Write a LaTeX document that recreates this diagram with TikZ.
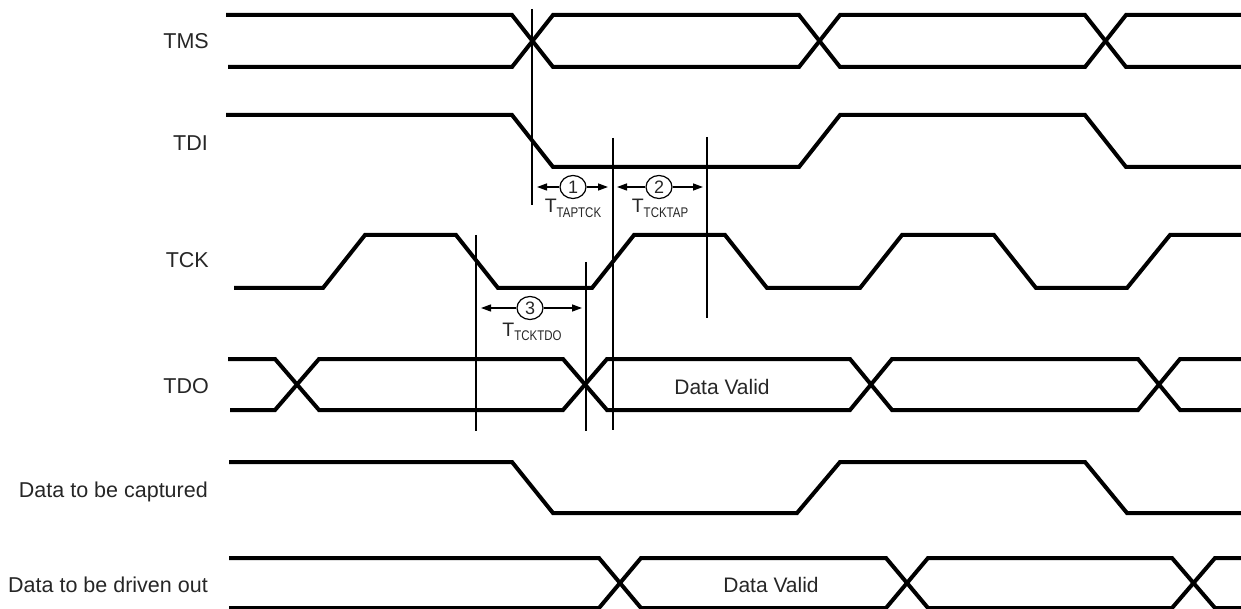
\documentclass[tikz,border=0pt]{standalone}
\usepackage{fontspec}
\setmainfont{Liberation Sans}
\newfontfamily\subfont[FakeStretch=0.82]{Liberation Sans}
\usetikzlibrary{arrows.meta}
\definecolor{txt}{gray}{0.15}
\newcommand{\tsub}[1]{\fontsize{19.5}{22}\selectfont T\raisebox{-5pt}{\subfont\fontsize{14}{16}\selectfont #1}}
\tikzset{
  sig/.style={line width=4pt, line join=miter},
  vline/.style={line width=1.2pt},
  arr/.style={line width=1.3pt, -{Triangle[length=10pt,width=7pt]}},
  lbl/.style={anchor=base east, inner sep=0pt, text=txt, font=\fontsize{21.5}{24}\selectfont},
  dv/.style={anchor=base, inner sep=0pt, text=txt, font=\fontsize{21}{24}\selectfont},
  num/.style={draw, line width=1.2pt, ellipse, minimum width=26pt, minimum height=23pt, inner sep=0pt, text=txt, font=\fontsize{18}{20}\selectfont},
  tl/.style={anchor=base, inner sep=0pt, text=txt}
}
\usetikzlibrary{shapes.geometric}
\begin{document}
\begin{tikzpicture}[x=1pt,y=-1pt]
\useasboundingbox (0,0) rectangle (1241,609);
% labels
\node[lbl] (lTMS) at (209,49) {TMS};
\node[lbl] (lTDI) at (208,151) {TDI};
\node[lbl] (lTCK) at (209,268) {TCK};
\node[lbl] (lTDO) at (209,393) {TDO};
\node[lbl] (lcap) at (208,497) {Data to be captured};
\node[lbl] (ldrv) at (208,592) {Data to be driven out};
% TMS
\draw[sig] (226,15) -- (512,15) -- (553,67) -- (799,67) -- (840,15) -- (1085,15) -- (1126,67) -- (1241,67);
\draw[sig] (228,67) -- (512,67) -- (553,15) -- (799,15) -- (840,67) -- (1085,67) -- (1126,15) -- (1241,15);
% TDI
\draw[sig] (226,115) -- (512,115) -- (553,167) -- (799,167) -- (840,115) -- (1085,115) -- (1126,167) -- (1241,167);
% TCK
\draw[sig] (234,288) -- (323,288) -- (365,235) -- (456,235) -- (498,288) -- (592,288) -- (634,235) -- (725,235) -- (767,288) -- (860,288) -- (902,235) -- (994,235) -- (1036,288) -- (1127,288) -- (1170,235) -- (1241,235);
% TDO
\draw[sig] (228,359) -- (275,359) -- (319,410) -- (563,410) -- (607,359) -- (850,359) -- (892,410) -- (1138,410) -- (1180,359) -- (1241,359);
\draw[sig] (230,410) -- (275,410) -- (319,359) -- (563,359) -- (607,410) -- (850,410) -- (892,359) -- (1138,359) -- (1180,410) -- (1241,410);
\node[dv] (dv1) at (722,394) {Data Valid};
% Data to be captured
\draw[sig] (229,462) -- (512,462) -- (553,513) -- (797,513) -- (840,462) -- (1085,462) -- (1127,513) -- (1241,513);
% Data to be driven out
\draw[sig] (229,558) -- (599,558) -- (641,608) -- (886,608) -- (928,558) -- (1172,558) -- (1215,608) -- (1241,608);
\draw[sig] (229,608) -- (599,608) -- (641,558) -- (886,558) -- (928,608) -- (1172,608) -- (1215,558) -- (1241,558);
\node[dv] (dv2) at (771,592) {Data Valid};
% vertical reference lines
\draw[vline] (532,9) -- (532,205);
\draw[vline] (613,138) -- (613,430);
\draw[vline] (707,137) -- (707,318);
\draw[vline] (476,235) -- (476,431);
\draw[vline] (586,262) -- (586,431);
% annotation 1
\coordinate (a1l) at (537,187);
\coordinate (a1r) at (608,187);
\node[num] (n1) at (573,187) {1};
\draw[arr] (n1) -- (a1l);
\draw[arr] (n1) -- (a1r);
\node[tl] (t1) at (573,213) {\tsub{TAPTCK}};
% annotation 2
\coordinate (a2l) at (617,187);
\coordinate (a2r) at (703,187);
\node[num] (n2) at (659,187) {2};
\draw[arr] (n2) -- (a2l);
\draw[arr] (n2) -- (a2r);
\node[tl] (t2) at (660,213) {\tsub{TCKTAP}};
% annotation 3
\coordinate (a3l) at (481,308);
\coordinate (a3r) at (582,308);
\node[num] (n3) at (530,308) {3};
\draw[arr] (n3) -- (a3l);
\draw[arr] (n3) -- (a3r);
\node[tl] (t3) at (532,336) {\tsub{TCKTDO}};
\end{tikzpicture}
\end{document}
